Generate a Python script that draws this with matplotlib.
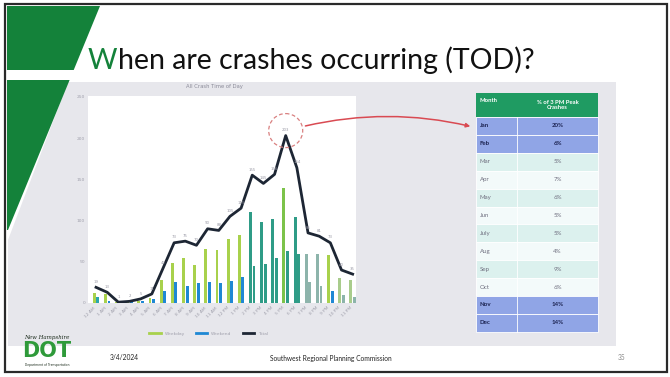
import matplotlib
matplotlib.use("Agg")
import matplotlib.pyplot as plt
from matplotlib.patches import Polygon, Rectangle, Circle, FancyArrowPatch
import numpy as np

# ---- data -------------------------------------------------------------
hours = ["12 AM", "1 AM", "2 AM", "3 AM", "4 AM", "5 AM", "6 AM", "7 AM",
         "8 AM", "9 AM", "10 AM", "11 AM", "12 PM", "1 PM", "2 PM", "3 PM",
         "4 PM", "5 PM", "6 PM", "7 PM", "8 PM", "9 PM", "10 PM", "11 PM"]
weekday = [12, 11, 1, 1, 3, 6, 28, 48, 54, 46, 65, 64, 78, 83,
           110, 98, 102, 140, 104, 60, 60, 58, 30, 28]
weekend = [7, 2, 0, 1, 2, 5, 14, 25, 21, 24, 25, 24, 27, 32,
           45, 47, 54, 63, 60, 25, 21, 15, 10, 7]
total = [19, 13, 1, 2, 5, 11, 42, 73, 75, 70, 90, 88, 105, 115,
         155, 145, 156, 203, 164, 85, 81, 73, 40, 35]
y_ticks = [0, 50, 100, 150, 200, 250]
series_names = ["Weekday", "Weekend", "Total"]

months = ["Jan", "Feb", "Mar", "Apr", "May", "Jun", "July", "Aug",
          "Sep", "Oct", "Nov", "Dec"]
peak_share = ["20%", "6%", "5%", "7%", "6%", "5%", "5%", "4%",
              "9%", "6%", "14%", "14%"]
highlight_months = ["Jan", "Feb", "Nov", "Dec"]

# ---- colours ------------------------------------------------------------
GREEN = "#14823a"
LIME = "#a8d14c"
BLUE = "#1f88d4"
TEAL = "#2f9c87"
GREYTEAL = "#8db4ab"
NAVY = "#1d2634"
weekday_colors = [LIME] * 14 + [TEAL, TEAL, TEAL, "#7cc34a", TEAL,
                                GREYTEAL, GREYTEAL, LIME, "#a9cc8c", "#a9cc8c"]
weekend_colors = ["#2aa6ae"] + [BLUE] * 13 + [TEAL] * 5 + \
                 [GREYTEAL, GREYTEAL, BLUE, GREYTEAL, GREYTEAL]

W, H = 670, 377
fig = plt.figure(figsize=(W / 100, H / 100), dpi=100)
fig.patch.set_facecolor("white")


def pixel_axes(zorder):
    """Full-figure axes measured in pixels, y growing downward."""
    a = fig.add_axes([0, 0, 1, 1], zorder=zorder)
    a.set_xlim(0, W)
    a.set_ylim(H, 0)
    a.axis("off")
    a.patch.set_alpha(0)
    return a


bg = pixel_axes(0)

# light grey content panel with slanted left edge
bg.add_patch(Polygon([(68, 82), (616, 82), (616, 346), (8, 346), (8, 240)],
                     closed=True, facecolor="#e7e7ec", edgecolor="none"))
# green accent band
bg.add_patch(Polygon([(7, 6), (100, 6), (8, 230), (7, 230)], closed=True,
                     facecolor=GREEN, edgecolor="none"))
bg.add_patch(Rectangle((7, 70), 70, 10, facecolor="white", edgecolor="none"))
# slide frame
bg.add_patch(Rectangle((5, 4), 662, 368, facecolor="none",
                       edgecolor="#2a2a2a", lw=1.6))

# title with green initial
t_w = bg.text(88, 69, "W", fontsize=20.5, color=GREEN, family="Lato",
              va="baseline", ha="left")
bg.annotate("hen are crashes occurring (TOD)?", xy=(1, 0), xycoords=t_w,
            fontsize=20.5, color="#111111", family="Lato", va="bottom",
            ha="left")

# ---- chart -------------------------------------------------------------
left, right, top, bottom = 88, 356, 96, 303
ax = fig.add_axes([left / W, 1 - bottom / H, (right - left) / W,
                   (bottom - top) / H], zorder=1)
ax.set_facecolor("white")
x = np.arange(len(hours))
bw = 0.26
ax.bar(x - 0.16, weekday, bw, color=weekday_colors, zorder=2)
ax.bar(x + 0.16, weekend, bw, color=weekend_colors, zorder=2)
ax.plot(x, total, color=NAVY, lw=2.0, zorder=3)
for xi, v in zip(x, total):
    ax.text(xi, v + 4, str(v), ha="center", va="bottom", fontsize=2.8,
            color="#9a9aa6", zorder=4)
ax.set_xlim(-0.72, 23.3)
ax.set_ylim(0, 251)
ax.set_yticks(y_ticks)
ax.set_yticklabels([str(t) for t in y_ticks], fontsize=3.2, color="#a0a0ac")
ax.set_xticks(x)
ax.set_xticklabels(hours, rotation=45, ha="right", fontsize=3.2,
                   color="#a0a0ac")
ax.tick_params(length=0, pad=2)
for s in ax.spines.values():
    s.set_visible(False)
ax.set_title("All Crash Time of Day", fontsize=3.8, color="#8a8a98", pad=6,
             x=0.47)

handles = [plt.Line2D([], [], color=c, lw=2) for c in (LIME, BLUE, NAVY)]
ax.legend(handles, series_names, loc="upper center",
          bbox_to_anchor=(0.45, -0.12), ncol=3, frameon=False, fontsize=3.2,
          labelcolor="#a0a0ac", handlelength=2.6, columnspacing=2.5)

# ---- callout from the peak hour to the table (drawn above the chart) ----
ov = pixel_axes(2)
peak_i = int(np.argmax(total))
px, py = ax.transData.transform((peak_i, total[peak_i]))
py = H - py
ov.add_patch(Circle((px, py - 5), 17, facecolor="none", edgecolor="#d98080",
                    lw=0.9, ls=(0, (3, 2))))
arrow = FancyArrowPatch((px + 17, py - 9), (473, 127),
                        connectionstyle="arc3,rad=-0.12", arrowstyle="-|>",
                        mutation_scale=6, color="#d94a52", lw=1.1)
ov.add_artist(arrow)

# ---- month table ---------------------------------------------------------
tx0, tx1, tx2 = 476, 517, 598
ty0, head_h, row_h = 93, 24, 17.9
bg.add_patch(Rectangle((tx0, ty0), tx2 - tx0, head_h, facecolor="#1f9b62",
                       edgecolor="none", zorder=3))
bg.text(tx0 + 4, ty0 + 8, "Month", fontsize=4.2, color="white",
        fontweight="bold", va="center", ha="left", zorder=4, family="Lato")
bg.text((tx1 + tx2) / 2, ty0 + 12, "% of 3 PM Peak\nCrashes", fontsize=4.2,
        color="white", fontweight="bold", va="center", ha="center",
        zorder=4, family="Lato", linespacing=1.0)
for i, (m, v) in enumerate(zip(months, peak_share)):
    y0 = ty0 + head_h + i * row_h
    hot = m in highlight_months
    fc = "#90a5e6" if hot else ("#dcf1ee" if i % 2 == 0 else "#f3fafa")
    bg.add_patch(Rectangle((tx0, y0), tx2 - tx0, row_h, facecolor=fc,
                           edgecolor="white", lw=0.6, zorder=3))
    col = "#1b2250" if hot else "#707080"
    wt = "bold" if hot else "normal"
    bg.text(tx0 + 4, y0 + row_h / 2, m, fontsize=4.4, color=col,
            fontweight=wt, va="center", ha="left", zorder=4, family="Lato")
    bg.text((tx1 + tx2) / 2, y0 + row_h / 2, v, fontsize=4.4, color=col,
            fontweight=wt, va="center", ha="center", zorder=4, family="Lato")
bg.plot([tx1, tx1], [ty0 + head_h, ty0 + head_h + 12 * row_h],
        color="white", lw=0.6, zorder=4)

# ---- footer ----------------------------------------------------------------
bg.text(47, 337, "New Hampshire", fontsize=4, style="italic",
        color="#1a2a1a", ha="center", va="center", family="DejaVu Serif")
bg.text(47, 351, "DOT", fontsize=15, fontweight="bold", color="#2f9a3a",
        ha="center", va="center", family="DejaVu Sans")
bg.text(47, 365, "Department of Transportation", fontsize=2.2,
        color="#1a2a1a", ha="center", va="center")
bg.text(110, 358, "3/4/2024", fontsize=4.8, color="#222222",
        ha="left", va="center", family="Lato")
bg.text(270, 358, "Southwest Regional Planning Commission", fontsize=4.8,
        color="#222222", ha="left", va="center", family="Lato")
bg.text(622, 357, "35", fontsize=4.8, color="#888888", ha="center",
        va="center", family="Lato")

fig.savefig("out.png", dpi=100)
